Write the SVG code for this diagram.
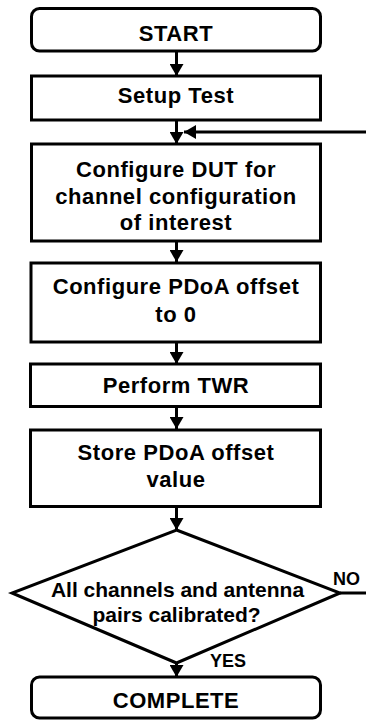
<svg xmlns="http://www.w3.org/2000/svg" width="366" height="720" viewBox="0 0 366 720">
  <defs>
    <marker id="arrow" viewBox="0 0 12 14" refX="12" refY="7" markerWidth="12" markerHeight="14" markerUnits="userSpaceOnUse" orient="auto">
      <path d="M0,0 L12,7 L0,14 Z" fill="#000"/>
    </marker>
    <style>
      .box { fill: #fff; stroke: #000; stroke-width: 3; }
      .flow { fill: none; stroke: #000; stroke-width: 3; }
      .lbl { font-family: "Liberation Sans", Arial, sans-serif; font-weight: bold; font-size: 22px; letter-spacing: 0.55px; fill: #000; text-anchor: middle; }
      .dlbl { font-size: 21px; letter-spacing: 0; }
      .tag { font-family: "Liberation Sans", Arial, sans-serif; font-weight: bold; font-size: 18px; fill: #000; }
    </style>
  </defs>
  <rect width="366" height="720" fill="#fff"/>

  <g id="connectors">
    <line class="flow" x1="176.5" y1="51" x2="176.5" y2="76" marker-end="url(#arrow)"/>
    <line class="flow" x1="176.5" y1="120" x2="176.5" y2="144" marker-end="url(#arrow)"/>
    <line class="flow" x1="366" y1="132" x2="184" y2="132" marker-end="url(#arrow)"/>
    <line class="flow" x1="176.5" y1="241" x2="176.5" y2="262" marker-end="url(#arrow)"/>
    <line class="flow" x1="176.5" y1="342" x2="176.5" y2="364" marker-end="url(#arrow)"/>
    <line class="flow" x1="176.5" y1="406" x2="176.5" y2="429" marker-end="url(#arrow)"/>
    <line class="flow" x1="176.5" y1="506" x2="176.5" y2="530" marker-end="url(#arrow)"/>
    <line class="flow" x1="176.5" y1="663" x2="176.5" y2="677" marker-end="url(#arrow)"/>
    <line class="flow" x1="340" y1="593" x2="366" y2="593"/>
    <text class="tag" x="333" y="585">NO</text>
    <text class="tag" x="210" y="667">YES</text>
  </g>

  <g id="start">
    <rect class="box" x="31.5" y="8.5" width="289" height="42.5" rx="8"/>
    <text class="lbl" x="176" y="41">START</text>
  </g>

  <g id="setup-test">
    <rect class="box" x="31.5" y="76" width="289" height="44"/>
    <text class="lbl" x="176" y="103">Setup Test</text>
  </g>

  <g id="configure-dut">
    <rect class="box" x="31.5" y="144" width="289" height="97"/>
    <text class="lbl" x="176" y="177">Configure DUT for</text>
    <text class="lbl" x="176" y="203.5">channel configuration</text>
    <text class="lbl" x="176" y="230">of interest</text>
  </g>

  <g id="configure-pdoa">
    <rect class="box" x="31" y="263" width="289.5" height="79"/>
    <text class="lbl" x="176" y="293.5">Configure PDoA offset</text>
    <text class="lbl" x="176" y="321.5">to 0</text>
  </g>

  <g id="perform-twr">
    <rect class="box" x="30.5" y="364" width="290" height="42.5"/>
    <text class="lbl" x="176" y="393">Perform TWR</text>
  </g>

  <g id="store-offset">
    <rect class="box" x="30.5" y="430" width="290" height="76.5"/>
    <text class="lbl" x="176" y="460">Store PDoA offset</text>
    <text class="lbl" x="176" y="487">value</text>
  </g>

  <g id="all-calibrated">
    <polygon class="box" points="176.5,530 340,593 176.5,663 12,593"/>
    <text class="lbl dlbl" x="177.5" y="597">All channels and antenna</text>
    <text class="lbl dlbl" x="176.5" y="621.5">pairs calibrated?</text>
  </g>

  <g id="complete">
    <rect class="box" x="31.5" y="677" width="289" height="41" rx="8"/>
    <text class="lbl" x="176" y="708">COMPLETE</text>
  </g>
</svg>
